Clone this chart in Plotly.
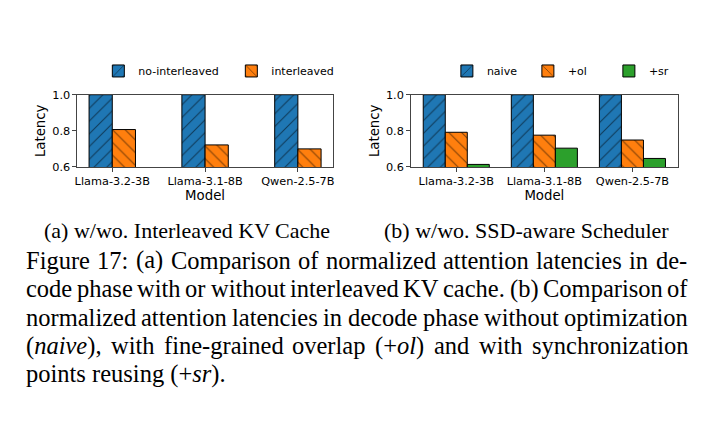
import re
import plotly.graph_objects as go

# ---------------- data ----------------
models = ["Llama-3.2-3B", "Llama-3.1-8B", "Qwen-2.5-7B"]
a_no_interleaved = [1.0, 1.0, 1.0]
a_interleaved = [0.807, 0.722, 0.700]
b_naive = [1.0, 1.0, 1.0]
b_ol = [0.792, 0.776, 0.749]
b_sr = [0.614, 0.704, 0.647]
y_ticks = [0.6, 0.8, 1.0]

caption_a = "(a) w/wo. Interleaved KV Cache"
caption_b = "(b) w/wo. SSD-aware Scheduler"
body_lines = [
    "Figure 17: (a) Comparison of normalized attention latencies in de-",
    "code phase with or without interleaved KV cache. (b) Comparison of",
    "normalized attention latencies in decode phase without optimization",
    "(<i>naive</i>), with fine-grained overlap (+<i>ol</i>) and with synchronization",
    "points reusing (+<i>sr</i>).",
]

W, H = 718, 426
BLUE, ORANGE, GREEN = "#1f77b4", "#ff7f0e", "#2ca02c"

def px(x):
    return x / W

def py(y):
    return 1 - y / H

fig = go.Figure()

def bar(x, y, name, color, shape, off, xa, ya, leg):
    fig.add_trace(go.Bar(
        x=x, y=y, name=name, width=0.25, offset=off,
        xaxis=xa, yaxis=ya, legend=leg,
        marker=dict(color=color, line=dict(color="black", width=1),
                    pattern=dict(shape=shape, fgcolor="black", size=9, solidity=0.12)),
    ))

bar(models, a_no_interleaved, "no-interleaved", BLUE, "/", -0.25, "x", "y", "legend")
bar(models, a_interleaved, "interleaved", ORANGE, "\\", 0.0, "x", "y", "legend")
bar(models, b_naive, "naive", BLUE, "/", -0.375, "x2", "y2", "legend2")
bar(models, b_ol, "+ol", ORANGE, "\\", -0.125, "x2", "y2", "legend2")
bar(models, b_sr, "+sr", GREEN, "", 0.125, "x2", "y2", "legend2")

tickfont = dict(family="DejaVu Sans", size=11.3, color="black")
titlefont = dict(family="DejaVu Sans", size=13.3, color="black")
legfont = dict(family="DejaVu Sans", size=11, color="black")
axcommon = dict(showline=True, mirror=True, linecolor="#444", linewidth=1,
                ticks="outside", ticklen=4, tickcolor="#444", tickwidth=1,
                showgrid=False, zeroline=False, tickfont=tickfont)

y_top, y_bot = 91.5, 166
fig.update_layout(
    width=W, height=H, margin=dict(l=0, r=0, t=0, b=0, pad=0),
    paper_bgcolor="white", plot_bgcolor="white", barmode="overlay",
    xaxis=dict(domain=[px(75), px(332)], range=[-0.375, 2.375], anchor="y",
               title=dict(text="Model", font=titlefont, standoff=1), **axcommon),
    yaxis=dict(domain=[py(y_bot), py(y_top)], range=[0.6, 1.0], anchor="x",
               tickvals=y_ticks, ticktext=[f"{v:.1f}" for v in y_ticks],
               title=dict(text="Latency", font=titlefont, standoff=3), **axcommon),
    xaxis2=dict(domain=[px(411), px(679.3)], range=[-0.5125, 2.5125], anchor="y2",
                title=dict(text="Model", font=titlefont, standoff=1), **axcommon),
    yaxis2=dict(domain=[py(y_bot), py(y_top)], range=[0.6, 1.0], anchor="x2",
                tickvals=y_ticks, ticktext=[f"{v:.1f}" for v in y_ticks],
                title=dict(text="Latency", font=titlefont, standoff=3), **axcommon),
    legend=dict(orientation="h", x=px(96), y=py(67), xanchor="left", yanchor="middle",
                font=legfont, entrywidth=88, entrywidthmode="pixels",
                bgcolor="rgba(0,0,0,0)"),
    legend2=dict(orientation="h", x=px(447), y=py(67), xanchor="left", yanchor="middle",
                 font=legfont, entrywidth=36, entrywidthmode="pixels",
                 bgcolor="rgba(0,0,0,0)"),
    showlegend=True,
)

# ---------------- captions (Times metrics for justification) ----------------
ROMAN = {" ": 250, "(": 333, ")": 333, "+": 564, "-": 333, ".": 250, ",": 250, ":": 278,
         "/": 278, "1": 500, "7": 500, "a": 444, "b": 500, "c": 444, "d": 500, "e": 444,
         "f": 333, "g": 500, "h": 500, "i": 278, "k": 500, "l": 278, "m": 778, "n": 500,
         "o": 500, "p": 500, "r": 333, "s": 389, "t": 278, "u": 500, "v": 500, "w": 722,
         "x": 500, "y": 500, "z": 444, "F": 556, "C": 667, "K": 722, "V": 722, "I": 333,
         "S": 556, "D": 722}
ITALIC = {"a": 500, "e": 444, "i": 278, "l": 278, "n": 500, "o": 500, "r": 389,
          "s": 389, "v": 444}

def width_of(word, size):
    total = 0
    italic = False
    for part in re.split(r"(</?i>)", word):
        if part == "<i>":
            italic = True
        elif part == "</i>":
            italic = False
        else:
            for ch in part:
                tbl = ITALIC if italic else ROMAN
                total += tbl.get(ch, ROMAN.get(ch, 500))
    return total * size / 1000.0

serif = "Liberation Serif, Times New Roman, serif"
CAP_SIZE = 22
BODY_SIZE = 24.5

def ann(text, x, baseline, size, xanchor="left"):
    fig.add_annotation(text=text, x=px(x), y=py(baseline - 0.45 * size), xref="paper", yref="paper",
                       xanchor=xanchor, yanchor="middle", showarrow=False,
                       font=dict(family=serif, size=size, color="black"))

ann(caption_a, 185, 241, CAP_SIZE, "center")
ann(caption_b, 527, 241, CAP_SIZE, "center")

L, R = 21, 687
baselines = [273.5, 302.8, 332.0, 361.3, 390.6]
for i, (line, base) in enumerate(zip(body_lines, baselines)):
    words = line.split(" ")
    if i < len(body_lines) - 1:
        widths = [width_of(w, BODY_SIZE) for w in words]
        gap = (R - L - sum(widths)) / (len(words) - 1)
        x = L
        for w, wd in zip(words, widths):
            ann(w, x, base, BODY_SIZE)
            x += wd + gap
    else:
        ann(line, L, base, BODY_SIZE)

fig.write_html("out.html")
